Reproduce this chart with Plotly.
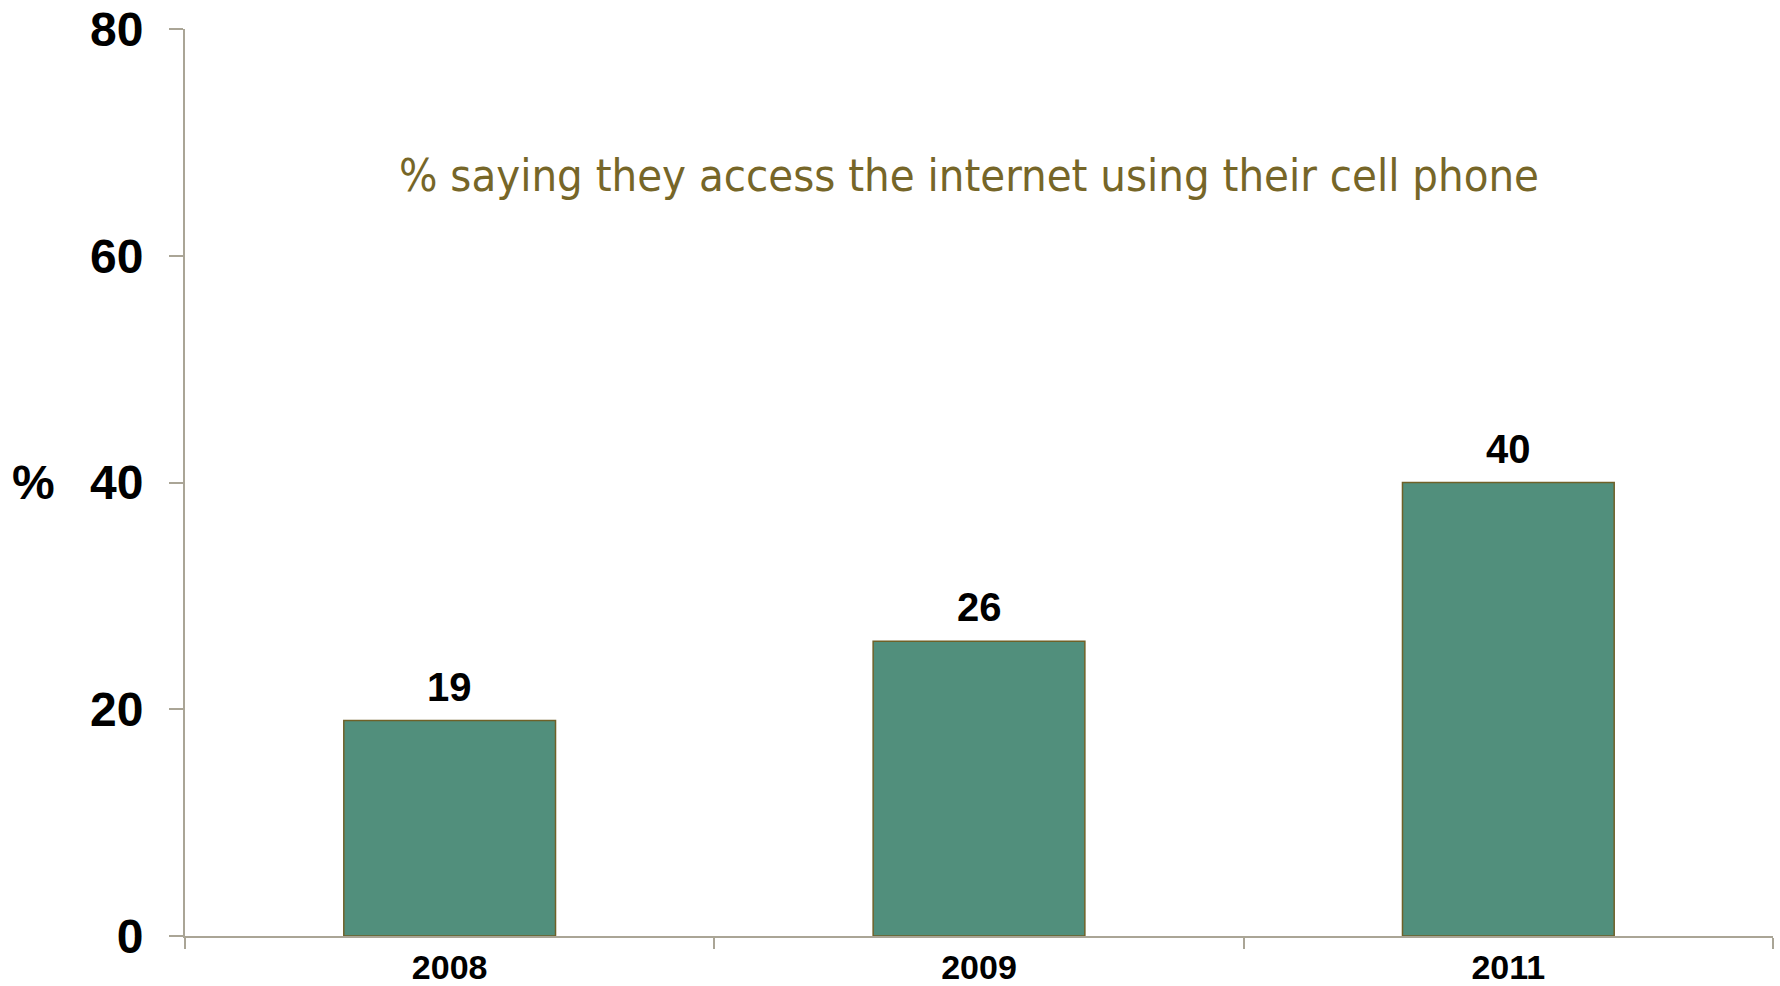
import plotly.graph_objects as go

years = ["2008", "2009", "2011"]
values = [19, 26, 40]
y_ticks = [0, 20, 40, 60, 80]
note = "% saying they access the internet using their cell phone"

BAR = "#518f7c"
OLIVE = "#6f6128"
TEXT_OLIVE = "#766628"
AXIS = "#aaa596"

fig = go.Figure()
fig.add_trace(go.Bar(
    x=years, y=values, width=0.4,
    marker=dict(color=BAR, line=dict(color=OLIVE, width=1.5)),
    hoverinfo="skip",
))

for i, v in enumerate(values):
    fig.add_annotation(x=i, y=v, text="<b>%d</b>" % v, showarrow=False,
                       yanchor="middle", yshift=34,
                       font=dict(family="Liberation Sans, Arial", size=40, color="#000000"))

fig.add_annotation(xref="paper", yref="paper", x=0.4937, y=0.838, text=note,
                   showarrow=False, xanchor="center", yanchor="middle",
                   font=dict(family="Liberation Sans Narrow, Arial Narrow, DejaVu Sans Condensed",
                             size=45, color=TEXT_OLIVE))

fig.add_annotation(xref="paper", yref="y", x=-0.0951, y=40, text="<b>%</b>",
                   showarrow=False, xanchor="center", yanchor="middle",
                   font=dict(family="Liberation Sans, Arial", size=48, color="#000000"))

fig.update_layout(
    width=1780, height=986,
    margin=dict(l=185, r=7, t=29, b=50),
    paper_bgcolor="white", plot_bgcolor="white",
    showlegend=False,
)
fig.update_xaxes(
    type="category", tickson="boundaries", range=[-0.5, 2.5],
    automargin=False, tickangle=0,
    showline=True, linecolor=AXIS, linewidth=2,
    ticks="outside", ticklen=11, tickwidth=2, tickcolor=AXIS,
    showgrid=False, zeroline=False,
    tickfont=dict(family="Liberation Sans, Arial", size=34, color="#000000", weight="bold"),
    ticklabelstandoff=0,
)
fig.update_yaxes(
    range=[0, 80], tickvals=y_ticks, ticktext=[str(t) for t in y_ticks],
    automargin=False,
    showline=True, linecolor=AXIS, linewidth=2,
    ticks="outside", ticklen=14, tickwidth=2, tickcolor=AXIS,
    showgrid=False, zeroline=False,
    tickfont=dict(family="Liberation Sans, Arial", size=48, color="#000000", weight="bold"),
    ticklabelstandoff=16,
)

fig.write_html("out.html", config={"displayModeBar": False},
               post_script="document.body.style.margin='0';document.body.style.overflow='hidden';")
